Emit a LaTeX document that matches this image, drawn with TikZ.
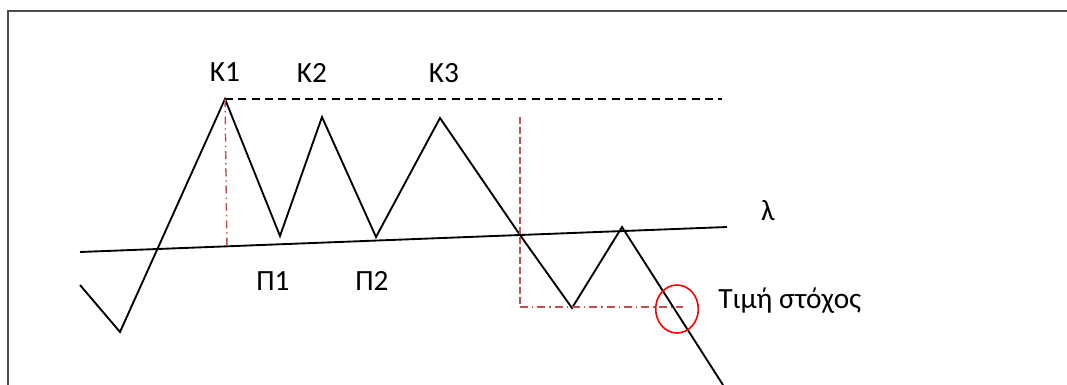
\documentclass[tikz,border=0pt]{standalone}
\usepackage{fontspec}
\setmainfont{Carlito}
\definecolor{guide}{HTML}{C0504D}
\begin{document}
\begin{tikzpicture}[x = 0.75pt, y = -0.75pt,
		price/.style = {line width = 1.4pt},
		lbl/.style = {inner sep = 0pt, font = \fontsize{22}{26}\selectfont}]
		\useasboundingbox (0,0) rectangle (1067,385);
		\draw [line width = 1.8pt, black!70] (1067,11) -- (8,11) -- (8,385);
		% price path
		\coordinate (s) at (80,285);
		\coordinate (v) at (120,332);
		\coordinate (k1) at (225,99);
		\coordinate (p1) at (280,236);
		\coordinate (k2) at (322,117);
		\coordinate (p2) at (376,237);
		\coordinate (k3) at (440,118);
		\coordinate (x) at (520,235);
		\coordinate (p3) at (572,308);
		\coordinate (k4) at (622,227);
		\coordinate (e) at (723,385);
		\draw [price] (s) -- (v) -- (k1) -- (p1) -- (k2) -- (p2) -- (k3) -- (x) -- (p3) -- (k4) -- (e);
		% neckline
		\coordinate (l1) at (80,252);
		\coordinate (l2) at (727,227);
		\draw [price] (l1) -- (l2);
		\coordinate (top) at (722,99);
		\draw [price, dash pattern = on 6pt off 4pt] (k1) -- (top);
		\coordinate (h1) at (227,248);
		\draw [guide, line width = 1.1pt, dash pattern = on 6pt off 3pt on 1pt off 3pt] (k1) -- (h1);
		\coordinate (h2) at (520,117);
		\coordinate (h3) at (520,307);
		\coordinate (h4) at (683,307);
		\draw [guide, line width = 1.1pt, dash pattern = on 5pt off 2.5pt] (h2) -- (h3);
		\draw [guide, line width = 1.1pt, dash pattern = on 6pt off 3pt on 1pt off 3pt] (h3) -- (h4);
		\draw [red, line width = 1.2pt] (677,309) ellipse (16pt and 18pt);
		% labels
		\node [lbl] (tk1) at (225,72) {Κ1};
		\node [lbl] (tk2) at (312,73) {Κ2};
		\node [lbl] (tk3) at (444,73) {Κ3};
		\node [lbl] (tp1) at (273,281) {Π1};
		\node [lbl] (tp2) at (372,281) {Π2};
		\node [lbl] (tl) at (768,211) {λ};
		\node [lbl, anchor = west] (tt) at (718,301) {Τιμή στόχος};
	\end{tikzpicture}
\end{document}
